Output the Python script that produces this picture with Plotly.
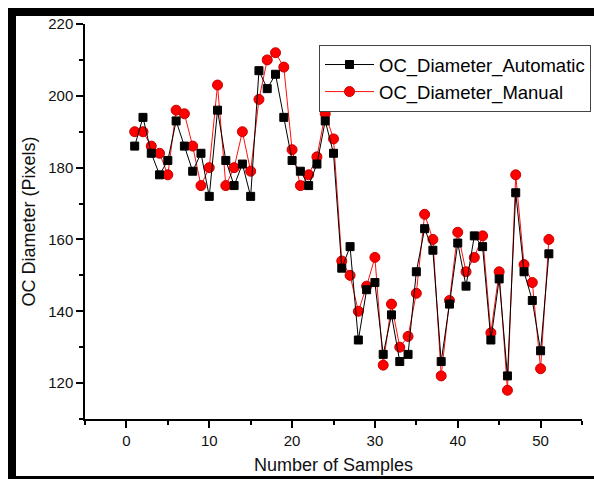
import plotly.graph_objects as go

samples = list(range(1, 52))
oc_automatic = [186, 194, 184, 178, 182, 193, 186, 179, 184, 172,
                196, 182, 175, 181, 172, 207, 202, 206, 194, 182,
                179, 175, 181, 193, 184, 152, 158, 132, 146, 148,
                128, 139, 126, 128, 151, 163, 157, 126, 142, 159,
                147, 161, 158, 132, 149, 122, 173, 151, 143, 129,
                156]
oc_manual = [190, 190, 186, 184, 178, 196, 195, 186, 175, 180,
             203, 175, 180, 190, 179, 199, 210, 212, 208, 185,
             175, 178, 183, 195, 188, 154, 150, 140, 147, 155,
             125, 142, 130, 133, 145, 167, 160, 122, 143, 162,
             151, 155, 161, 134, 151, 118, 178, 153, 148, 124,
             160]

x_tickvals = [0, 10, 20, 30, 40, 50]
y_tickvals = [120, 140, 160, 180, 200, 220]

FONT = "Liberation Sans, Arial, sans-serif"

fig = go.Figure()
fig.add_trace(go.Scatter(
    x=samples, y=oc_manual, mode="lines+markers", name="OC_Diameter_Manual",
    line=dict(color="#ff1010", width=1),
    marker=dict(symbol="circle", size=10, color="#ff0000",
                line=dict(color="#c80000", width=1)),
    legendrank=2,
))
fig.add_trace(go.Scatter(
    x=samples, y=oc_automatic, mode="lines+markers", name="OC_Diameter_Automatic",
    line=dict(color="#000000", width=1),
    marker=dict(symbol="square", size=8, color="#000000",
                line=dict(color="#000000", width=1)),
    legendrank=1,
))

# plot area in pixels: x 85..582, y 24..419
def px_x(p):
    return (p - 85) / 497.0

def px_y(p):
    return (419 - p) / 395.0

frame = "#000000"
shapes = [
    dict(type="rect", xref="paper", yref="paper", x0=px_x(8), x1=px_x(600),
         y0=px_y(16), y1=px_y(8), fillcolor=frame, line=dict(width=0)),
    dict(type="rect", xref="paper", yref="paper", x0=px_x(8), x1=px_x(16),
         y0=px_y(482), y1=px_y(8), fillcolor=frame, line=dict(width=0)),
    dict(type="rect", xref="paper", yref="paper", x0=px_x(8), x1=px_x(600),
         y0=px_y(482), y1=px_y(476), fillcolor=frame, line=dict(width=0)),
]

fig.update_layout(
    width=594, height=479,
    margin=dict(l=85, r=12, t=24, b=60, autoexpand=False),
    paper_bgcolor="white", plot_bgcolor="white",
    font=dict(family=FONT, color="#111111"),
    shapes=shapes,
    showlegend=True,
    legend=dict(
        x=px_x(319), y=px_y(45), xanchor="left", yanchor="top",
        bgcolor="white", bordercolor="#444444", borderwidth=1,
        font=dict(size=18.5, family=FONT, color="#000000"),
        tracegroupgap=0, itemwidth=49,
    ),
    xaxis=dict(
        range=[-5, 55], showgrid=False, zeroline=False,
        showline=True, linecolor="#000000", linewidth=1.5,
        ticks="outside", ticklen=7, tickwidth=1.5, tickcolor="#000000",
        tickvals=x_tickvals, ticktext=[str(v) for v in x_tickvals],
        tickfont=dict(size=15, family=FONT, color="#111111"),
        minor=dict(tickmode="linear", tick0=-5, dtick=10, ticks="outside",
                   ticklen=4, tickwidth=1.5, tickcolor="#000000", showgrid=False),
        title=dict(text="Number of Samples", font=dict(size=18, family=FONT, color="#111111"),
                   standoff=11),
        automargin=False,
    ),
    yaxis=dict(
        range=[110, 220], showgrid=False, zeroline=False,
        showline=True, linecolor="#000000", linewidth=1.5,
        ticks="outside", ticklen=7, tickwidth=1.5, tickcolor="#000000",
        tickvals=y_tickvals, ticktext=[str(v) for v in y_tickvals],
        tickfont=dict(size=15, family=FONT, color="#111111"),
        minor=dict(tickmode="linear", tick0=110, dtick=20, ticks="outside",
                   ticklen=4, tickwidth=1.5, tickcolor="#000000", showgrid=False),
        title=dict(text="OC Diameter (Pixels)", font=dict(size=18, family=FONT, color="#111111"),
                   standoff=8),
        automargin=False,
    ),
)

fig.write_html("out.html")
